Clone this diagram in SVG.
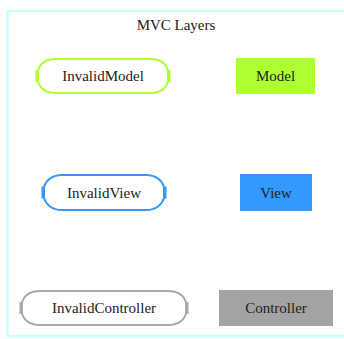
<svg xmlns="http://www.w3.org/2000/svg" width="344" height="339" viewBox="0 0 344 339">
  <style>
    text { font-family: "Liberation Serif", "Times New Roman", serif; font-size: 15px; fill: #222; text-anchor: middle; }
    .cluster { fill: none; stroke: #c8ffff; stroke-width: 2.5; }
    .invalid { fill: #fff; stroke-width: 2; }
    .tab { stroke: none; }
  </style>
  <rect width="344" height="339" fill="#fff"/>

  <!-- layer cluster -->
  <g id="cluster_mvc">
    <rect class="cluster" x="7.5" y="11" width="345" height="325"/>
    <text x="176" y="30">MVC Layers</text>
  </g>

  <!-- model row -->
  <g id="InvalidModel">
    <path class="invalid" stroke="#adff2f" d="M56,59 H150 C160,59 166,64 168,70.5 V81.5 C166,88 160,93 150,93 H56 C46,93 40,88 38,81.5 V70.5 C40,64 46,59 56,59 Z"/>
    <rect class="tab" fill="#adff2f" x="35.5" y="70" width="3.5" height="12"/>
    <rect class="tab" fill="#adff2f" x="167" y="70" width="3.5" height="12"/>
    <text x="103" y="81">InvalidModel</text>
  </g>
  <g id="Model">
    <rect x="236" y="58" width="79" height="36" fill="#adff2f"/>
    <text x="275.5" y="81">Model</text>
  </g>

  <!-- view row -->
  <g id="InvalidView">
    <path class="invalid" stroke="#3399ff" d="M62,175 H146 C156,175 162,180.5 164,187 V198 C162,204.5 156,210 146,210 H62 C52,210 46,204.5 44,198 V187 C46,180.5 52,175 62,175 Z"/>
    <rect class="tab" fill="#3399ff" x="41.5" y="186.5" width="3.5" height="12"/>
    <rect class="tab" fill="#3399ff" x="163" y="186.5" width="3.5" height="12"/>
    <text x="104" y="197.5">InvalidView</text>
  </g>
  <g id="View">
    <rect x="240" y="174" width="72" height="37" fill="#3399ff"/>
    <text x="276" y="197.5">View</text>
  </g>

  <!-- controller row -->
  <g id="InvalidController">
    <path class="invalid" stroke="#aaaaaa" d="M40,291 H168 C178,291 184,296 186,302.5 V313.5 C184,320 178,325 168,325 H40 C30,325 24,320 22,313.5 V302.5 C24,296 30,291 40,291 Z"/>
    <rect class="tab" fill="#aaaaaa" x="19.5" y="302" width="3.5" height="12"/>
    <rect class="tab" fill="#aaaaaa" x="185" y="302" width="3.5" height="12"/>
    <text x="104" y="313">InvalidController</text>
  </g>
  <g id="Controller">
    <rect x="219" y="290" width="114" height="36" fill="#a3a3a3"/>
    <text x="276" y="313">Controller</text>
  </g>

  <!-- no connectors between layers -->
  <g id="edges"/>
</svg>
